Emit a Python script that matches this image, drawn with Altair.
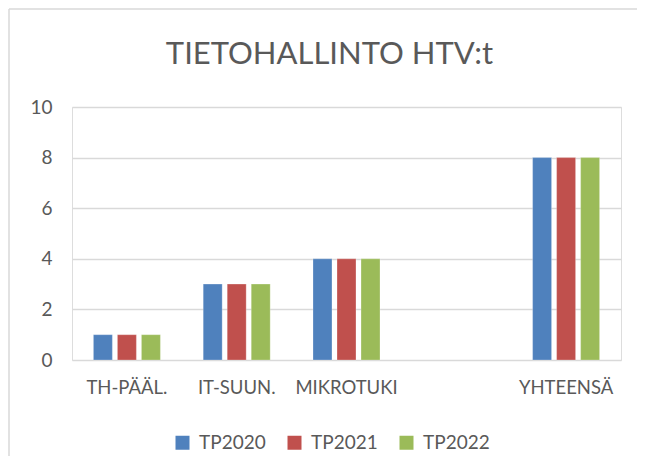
import altair as alt
import pandas as pd

categories = ["TH-PÄÄL.", "IT-SUUN.", "MIKROTUKI", " ", "YHTEENSÄ"]
series = ["TP2020", "TP2021", "TP2022"]
tp2020 = [1, 3, 4, 8]
tp2021 = [1, 3, 4, 8]
tp2022 = [1, 3, 4, 8]
data_cats = ["TH-PÄÄL.", "IT-SUUN.", "MIKROTUKI", "YHTEENSÄ"]
colors = ["#4F81BD", "#C0504D", "#9BBB59"]
title_text = "TIETOHALLINTO HTV:t"

rows = []
for s, vals in zip(series, [tp2020, tp2021, tp2022]):
    for c, v in zip(data_cats, vals):
        rows.append({"kategoria": c, "sarja": s, "arvo": v})
df = pd.DataFrame(rows)

W, H = 549, 253
FONT = "Lato"
GREY = "#595959"
BORDER = "#d9d9d9"

bars = alt.Chart(df).mark_bar(stroke="white", strokeOpacity=0.25, strokeWidth=1).encode(
    x=alt.X("kategoria:N", sort=categories,
            scale=alt.Scale(domain=categories, paddingInner=0.344, paddingOuter=0.172),
            axis=alt.Axis(title=None, labelAngle=0, domain=False, ticks=False,
                          labelPadding=18, labelFontSize=18.5, labelFont=FONT,
                          labelColor=GREY)),
    xOffset=alt.XOffset("sarja:N", sort=series,
                        scale=alt.Scale(paddingInner=0.21, paddingOuter=0.105)),
    y=alt.Y("arvo:Q", scale=alt.Scale(domain=[0, 10], nice=False),
            axis=alt.Axis(title=None, values=[0, 2, 4, 6, 8, 10], domain=False,
                          ticks=False, labelPadding=20, labelFontSize=19,
                          labelFont=FONT, labelColor=GREY, gridColor=BORDER,
                          gridWidth=1.3)),
    color=alt.Color("sarja:N", sort=series,
                    scale=alt.Scale(domain=series, range=colors),
                    legend=alt.Legend(title=None, orient="none", direction="horizontal",
                                      legendX=101, legendY=326, symbolType="square",
                                      symbolSize=196, symbolStrokeWidth=0,
                                      labelFontSize=19, labelFont=FONT,
                                      labelColor=GREY, labelOffset=7,
                                      columnPadding=19)),
)

title = alt.Chart(pd.DataFrame({"t": [title_text]})).mark_text(
    font=FONT, fontSize=31, fontWeight=400, color=GREY,
    align="center", baseline="alphabetic"
).encode(text="t:N", x=alt.value(W / 2 - 17), y=alt.value(-43))

one = pd.DataFrame({"a": [0]})
top_line = alt.Chart(one).mark_rule(color=BORDER, strokeWidth=1.5).encode(
    x=alt.value(-63), x2=alt.value(W + 200), y=alt.value(-98)
)
left_line = alt.Chart(one).mark_rule(color=BORDER, strokeWidth=1.5).encode(
    x=alt.value(-63), y=alt.value(-98), y2=alt.value(H + 200)
)

chart = alt.layer(bars, title, top_line, left_line).properties(
    width=W, height=H,
    autosize=alt.AutoSizeParams(type="none"),
    padding={"left": 64, "top": 99, "right": 16, "bottom": 96},
).configure_view(stroke=None).configure(background="white")

chart.save("out.html", embed_options={"renderer": "svg", "actions": False})
